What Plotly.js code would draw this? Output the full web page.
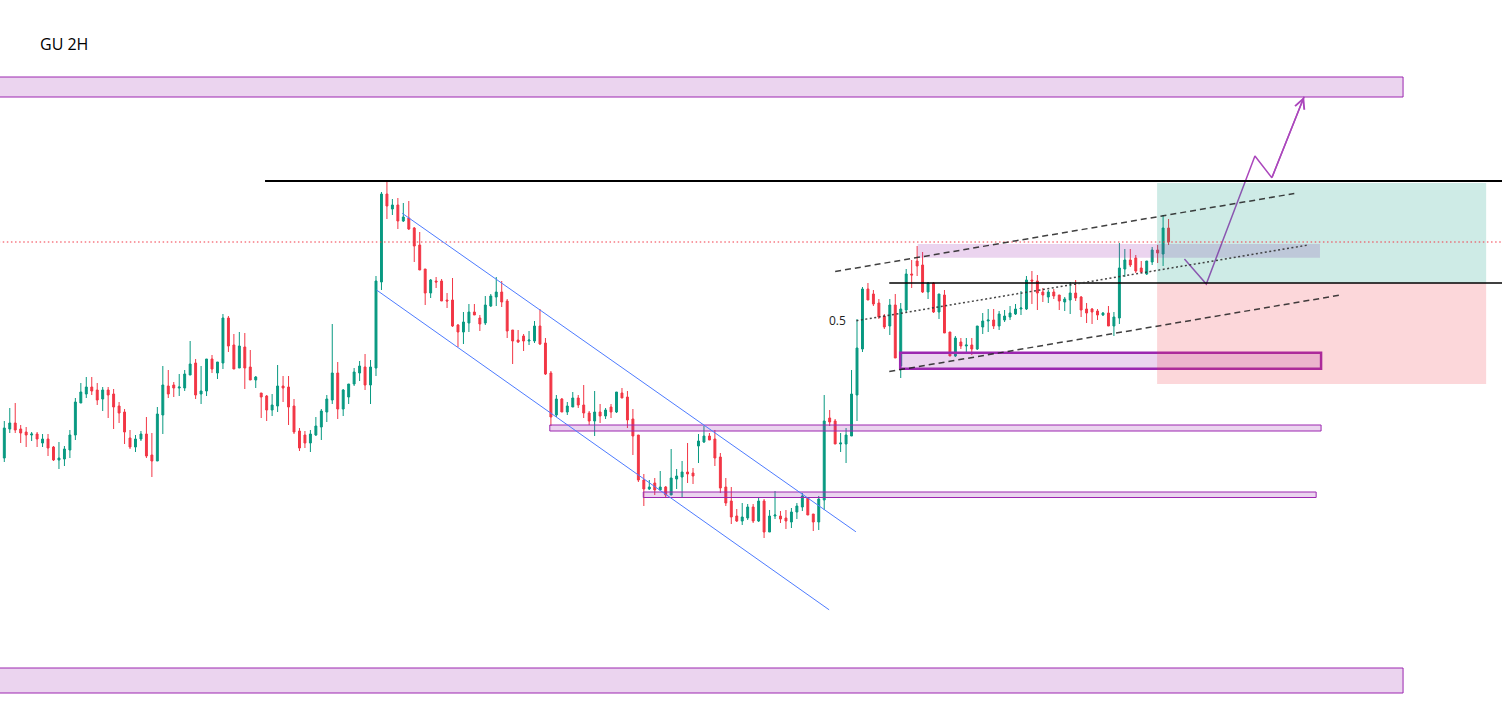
<!DOCTYPE html>
<html>
<head>
<meta charset="utf-8">
<script src="https://cdn.plot.ly/plotly-3.0.1.min.js"></script>
<style>
html,body{margin:0;padding:0;background:#ffffff;}
#chart{width:1502px;height:708px;}
</style>
</head>
<body>
<div id="chart"></div>
<script>
// ---- Chart title ----
const chartTitle = 'GU 2H';

// ---- GBPUSD 2H candles ----
const open = [
1.2342,1.2371,1.2377,1.2371,1.2368,1.2365,1.2366,1.2357,1.2361,1.2353,
1.2340,1.2341,1.2350,1.2365,1.2397,1.2406,1.2413,1.2410,1.2401,1.2410,
1.2406,1.2394,1.2388,1.2362,1.2353,1.2361,1.2366,1.2345,1.2339,1.2385,
1.2414,1.2415,1.2412,1.2412,1.2425,1.2437,1.2406,1.2409,1.2441,1.2427,
1.2437,1.2482,1.2455,1.2432,1.2453,1.2433,1.2420,1.2407,1.2404,1.2390,
1.2394,1.2414,1.2413,1.2394,1.2369,1.2365,1.2357,1.2365,1.2373,1.2388,
1.2400,1.2427,1.2391,1.2403,1.2416,1.2427,1.2433,1.2415,1.2432,1.2518,
1.2606,1.2591,1.2595,1.2579,1.2582,1.2572,1.2555,1.2531,1.2507,1.2519,
1.2519,1.2500,1.2500,1.2475,1.2468,1.2477,1.2488,1.2482,1.2477,1.2494,
1.2503,1.2508,1.2499,1.2470,1.2460,1.2464,1.2459,1.2459,1.2474,1.2457,
1.2427,1.2385,1.2401,1.2388,1.2393,1.2402,1.2395,1.2387,1.2379,1.2388,
1.2384,1.2393,1.2388,1.2407,1.2403,1.2381,1.2365,1.2320,1.2311,1.2317,
1.2310,1.2313,1.2305,1.2321,1.2323,1.2328,1.2327,1.2354,1.2358,1.2364,
1.2361,1.2343,1.2313,1.2299,1.2284,1.2279,1.2282,1.2293,1.2279,1.2299,
1.2268,1.2284,1.2284,1.2282,1.2278,1.2288,1.2293,1.2302,1.2286,1.2278,
1.2300,1.2382,1.2379,1.2356,1.2356,1.2364,1.2405,1.2451,1.2511,1.2506,
1.2497,1.2484,1.2474,1.2495,1.2434,1.2490,1.2526,1.2539,1.2535,1.2508,
1.2517,1.2488,1.2505,1.2468,1.2444,1.2458,1.2454,1.2455,1.2451,1.2473,
1.2479,1.2480,1.2474,1.2480,1.2483,1.2486,1.2491,1.2491,1.2520,1.2519,
1.2508,1.2503,1.2508,1.2505,1.2498,1.2500,1.2507,1.2503,1.2491,1.2491,
1.2489,1.2485,1.2487,1.2474,1.2482,1.2531,1.2540,1.2542,1.2532,1.2526,
1.2538,1.2550,1.2546,1.2572
];
const high = [
1.2379,1.2392,1.2397,1.2375,1.2373,1.2368,1.2368,1.2366,1.2366,1.2354,
1.2358,1.2354,1.2370,1.2402,1.2417,1.2423,1.2423,1.2417,1.2413,1.2413,
1.2411,1.2398,1.2391,1.2370,1.2365,1.2369,1.2383,1.2367,1.2393,1.2434,
1.2430,1.2418,1.2426,1.2430,1.2459,1.2441,1.2434,1.2441,1.2445,1.2438,
1.2486,1.2484,1.2466,1.2468,1.2467,1.2450,1.2424,1.2407,1.2405,1.2406,
1.2435,1.2424,1.2424,1.2401,1.2372,1.2369,1.2370,1.2383,1.2391,1.2405,
1.2476,1.2438,1.2411,1.2416,1.2432,1.2439,1.2446,1.2440,1.2524,1.2608,
1.2619,1.2601,1.2602,1.2597,1.2599,1.2573,1.2568,1.2531,1.2521,1.2523,
1.2521,1.2507,1.2522,1.2476,1.2488,1.2496,1.2496,1.2485,1.2504,1.2506,
1.2523,1.2519,1.2501,1.2470,1.2470,1.2466,1.2469,1.2479,1.2491,1.2462,
1.2429,1.2405,1.2402,1.2398,1.2408,1.2405,1.2415,1.2389,1.2409,1.2396,
1.2392,1.2396,1.2408,1.2412,1.2409,1.2391,1.2365,1.2326,1.2320,1.2322,
1.2329,1.2314,1.2351,1.2331,1.2339,1.2357,1.2332,1.2366,1.2374,1.2367,
1.2370,1.2347,1.2322,1.2313,1.2291,1.2297,1.2296,1.2296,1.2303,1.2301,
1.2290,1.2309,1.2289,1.2290,1.2292,1.2297,1.2307,1.2303,1.2286,1.2304,
1.2405,1.2390,1.2381,1.2367,1.2372,1.2430,1.2481,1.2513,1.2517,1.2510,
1.2501,1.2486,1.2501,1.2506,1.2497,1.2531,1.2540,1.2554,1.2548,1.2518,
1.2518,1.2506,1.2510,1.2468,1.2464,1.2462,1.2462,1.2462,1.2474,1.2487,
1.2491,1.2491,1.2489,1.2490,1.2494,1.2496,1.2509,1.2524,1.2529,1.2525,
1.2512,1.2510,1.2511,1.2505,1.2503,1.2518,1.2520,1.2504,1.2497,1.2492,
1.2491,1.2488,1.2494,1.2488,1.2557,1.2551,1.2551,1.2545,1.2539,1.2539,
1.2553,1.2555,1.2585,1.2581
];
const low = [
1.2338,1.2367,1.2367,1.2357,1.2353,1.2359,1.2353,1.2353,1.2344,1.2339,
1.2331,1.2334,1.2342,1.2360,1.2397,1.2402,1.2405,1.2395,1.2389,1.2382,
1.2371,1.2377,1.2356,1.2351,1.2348,1.2359,1.2342,1.2323,1.2339,1.2366,
1.2402,1.2403,1.2404,1.2409,1.2425,1.2401,1.2396,1.2404,1.2427,1.2421,
1.2431,1.2448,1.2431,1.2432,1.2411,1.2420,1.2412,1.2382,1.2379,1.2384,
1.2388,1.2398,1.2375,1.2366,1.2349,1.2352,1.2348,1.2364,1.2360,1.2378,
1.2396,1.2381,1.2384,1.2396,1.2414,1.2419,1.2410,1.2396,1.2424,1.2510,
1.2581,1.2585,1.2571,1.2578,1.2570,1.2538,1.2530,1.2495,1.2502,1.2512,
1.2499,1.2492,1.2473,1.2453,1.2456,1.2468,1.2485,1.2469,1.2475,1.2493,
1.2494,1.2493,1.2462,1.2436,1.2457,1.2449,1.2455,1.2457,1.2455,1.2425,
1.2374,1.2383,1.2388,1.2385,1.2393,1.2392,1.2382,1.2375,1.2364,1.2377,
1.2381,1.2382,1.2387,1.2402,1.2372,1.2345,1.2318,1.2294,1.2310,1.2305,
1.2310,1.2303,1.2305,1.2311,1.2303,1.2317,1.2316,1.2337,1.2357,1.2360,
1.2334,1.2307,1.2294,1.2276,1.2278,1.2275,1.2280,1.2277,1.2278,1.2262,
1.2268,1.2281,1.2277,1.2271,1.2272,1.2281,1.2289,1.2285,1.2269,1.2270,
1.2290,1.2374,1.2356,1.2348,1.2337,1.2364,1.2379,1.2448,1.2500,1.2494,
1.2481,1.2471,1.2465,1.2442,1.2422,1.2488,1.2512,1.2524,1.2507,1.2501,
1.2487,1.2481,1.2467,1.2444,1.2443,1.2451,1.2446,1.2445,1.2450,1.2466,
1.2468,1.2471,1.2470,1.2478,1.2480,1.2485,1.2485,1.2490,1.2496,1.2490,
1.2498,1.2497,1.2501,1.2490,1.2489,1.2486,1.2499,1.2483,1.2477,1.2476,
1.2480,1.2484,1.2474,1.2464,1.2476,1.2523,1.2533,1.2527,1.2527,1.2525,
1.2535,1.2537,1.2534,1.2555
];
const close = [
1.2372,1.2377,1.2370,1.2367,1.2365,1.2366,1.2361,1.2361,1.2352,1.2340,
1.2342,1.2351,1.2365,1.2398,1.2408,1.2413,1.2409,1.2400,1.2410,1.2405,
1.2393,1.2387,1.2368,1.2353,1.2361,1.2366,1.2344,1.2339,1.2386,1.2415,
1.2406,1.2412,1.2413,1.2426,1.2436,1.2405,1.2409,1.2441,1.2431,1.2438,
1.2482,1.2454,1.2431,1.2454,1.2432,1.2420,1.2423,1.2403,1.2390,1.2395,
1.2414,1.2412,1.2393,1.2368,1.2352,1.2357,1.2366,1.2374,1.2389,1.2401,
1.2427,1.2391,1.2410,1.2416,1.2428,1.2434,1.2415,1.2433,1.2519,1.2606,
1.2594,1.2595,1.2579,1.2583,1.2571,1.2554,1.2530,1.2507,1.2520,1.2518,
1.2499,1.2499,1.2474,1.2468,1.2478,1.2488,1.2485,1.2476,1.2495,1.2504,
1.2508,1.2498,1.2469,1.2459,1.2458,1.2459,1.2460,1.2474,1.2456,1.2426,
1.2383,1.2401,1.2388,1.2394,1.2402,1.2395,1.2387,1.2379,1.2388,1.2384,
1.2390,1.2388,1.2408,1.2402,1.2380,1.2364,1.2320,1.2311,1.2313,1.2310,
1.2313,1.2305,1.2322,1.2324,1.2328,1.2326,1.2324,1.2359,1.2364,1.2360,
1.2342,1.2312,1.2297,1.2283,1.2279,1.2283,1.2293,1.2279,1.2299,1.2268,
1.2284,1.2285,1.2281,1.2279,1.2288,1.2294,1.2304,1.2285,1.2278,1.2301,
1.2379,1.2378,1.2356,1.2357,1.2365,1.2406,1.2452,1.2511,1.2500,1.2496,
1.2483,1.2473,1.2495,1.2442,1.2491,1.2526,1.2525,1.2534,1.2508,1.2517,
1.2488,1.2506,1.2467,1.2444,1.2462,1.2454,1.2455,1.2451,1.2474,1.2479,
1.2480,1.2474,1.2486,1.2484,1.2487,1.2491,1.2492,1.2520,1.2519,1.2507,
1.2505,1.2508,1.2504,1.2499,1.2501,1.2507,1.2502,1.2490,1.2487,1.2488,
1.2485,1.2487,1.2474,1.2483,1.2532,1.2540,1.2535,1.2529,1.2528,1.2539,
1.2550,1.2547,1.2572,1.2558
];
const bars = open.map((_, i) => i);

// ---- Drawing levels (price) and anchors (bar index) ----
const upperZone = [1.2703, 1.2723];
const lowerZone = [1.2107, 1.2132];
const zonesEdge = 255.9;
const swingHighLevel = 1.2619;
const swingHighFrom = 47.7;
const entryLevel = 1.2517;
const entryFrom = 161.9;
const targetLevel = 1.2617;
const stopLevel = 1.2416;
const positionFrom = 210.9;
const positionTo = 271.1;

// smaller demand / supply zones
const zoneStart = [99.8, 116.9, 163.9, 167.1];
const zoneEnd   = [240.9, 240.0, 240.9, 240.7];
const zoneLow   = [1.2369, 1.23025, 1.24313, 1.25423];
const zoneHigh  = [1.2375, 1.2308, 1.24473, 1.2556];

// descending blue channel
const chanUpperX = [72.8, 155.8], chanUpperY = [1.25867, 1.22682];
const chanLowerX = [68.1, 150.9], chanLowerY = [1.2510, 1.21902];

// rising dashed channel with mid (0.5) line
const riseUpperX = [152.0, 236.0], riseUpperY = [1.25285, 1.26065];
const riseLowerX = [161.9, 244.2], riseLowerY = [1.24285, 1.25047];
const riseMidX   = [155.9, 238.6], riseMidY   = [1.24793, 1.2555];
const midLabel = '0.5';

// projected path
const pathX = [215.9, 219.9, 228.8, 231.9, 237.8];
const pathY = [1.2541, 1.2516, 1.2644, 1.26223, 1.27033];

// ---- styles ----
const UP = '#089981', DOWN = '#F23645';
const PURPLE = '#9c27b0', PURPLE_FILL = 'rgba(156,39,176,0.2)';
const X_RANGE = [-0.787, 274.0];
const Y_RANGE = [1.2092, 1.2800];

const shapes = [];
function rect(x0, x1, y0, y1, fill, lineColor, lineWidth) {
  shapes.push({type:'rect', xref:'x', yref:'y', x0, x1, y0, y1, fillcolor:fill,
    line:{color:lineColor, width:lineWidth}, layer:'above'});
}
function seg(xs, ys, color, width, dash) {
  shapes.push({type:'line', xref:'x', yref:'y', x0:xs[0], x1:xs[1], y0:ys[0], y1:ys[1],
    line:{color, width, dash:dash || 'solid'}, layer:'above'});
}

rect(X_RANGE[0]-1, zonesEdge, upperZone[0], upperZone[1], PURPLE_FILL, PURPLE, 1);
rect(X_RANGE[0]-1, zonesEdge, lowerZone[0], lowerZone[1], PURPLE_FILL, PURPLE, 1);
const zoneBorder = [1, 1, 2.5, 0];
zoneStart.forEach((s, k) => {
  rect(s, zoneEnd[k], zoneLow[k], zoneHigh[k], PURPLE_FILL,
       zoneBorder[k] ? PURPLE : 'rgba(0,0,0,0)', zoneBorder[k]);
});
rect(positionFrom, positionTo, entryLevel, targetLevel, 'rgba(8,153,129,0.2)', 'rgba(0,0,0,0)', 0);
rect(positionFrom, positionTo, stopLevel, entryLevel, 'rgba(242,54,69,0.2)', 'rgba(0,0,0,0)', 0);

seg([swingHighFrom, X_RANGE[1]+1], [swingHighLevel, swingHighLevel], '#000000', 2);
seg([entryFrom, X_RANGE[1]+1], [entryLevel, entryLevel], '#000000', 1.3);
seg([X_RANGE[0]-1, X_RANGE[1]+1], [close[close.length-1], close[close.length-1]], DOWN, 1.2, '1.5px,2.6px');
seg(chanUpperX, chanUpperY, '#4d7bff', 1);
seg(chanLowerX, chanLowerY, '#4d7bff', 1);
seg(riseUpperX, riseUpperY, 'rgba(30,30,30,0.85)', 1.5, '6px,4px');
seg(riseLowerX, riseLowerY, 'rgba(30,30,30,0.85)', 1.5, '6px,4px');
seg(riseMidX, riseMidY, 'rgba(50,50,50,0.9)', 1.5, '2px,2.5px');

const traces = [
  {
    type:'candlestick', x:bars, open, high, low, close,
    increasing:{line:{color:UP, width:1}, fillcolor:UP},
    decreasing:{line:{color:DOWN, width:1}, fillcolor:DOWN},
    whiskerwidth:0, hoverinfo:'skip', showlegend:false
  },
  {
    type:'scatter', mode:'lines', x:pathX, y:pathY,
    line:{color:'#ab47bc', width:1.5}, hoverinfo:'skip', showlegend:false
  }
];

const n = pathX.length;
const layout = {
  width:1502, height:708,
  margin:{l:0, r:0, t:0, b:0},
  paper_bgcolor:'#ffffff', plot_bgcolor:'#ffffff',
  showlegend:false,
  boxgap:0.5,
  title:{text:chartTitle, x:40/1502, xanchor:'left', y:1-44/708, yanchor:'middle',
         font:{family:'Open Sans, Noto Sans, sans-serif', size:16, color:'#000000'}},
  xaxis:{range:X_RANGE, visible:false, showgrid:false, zeroline:false,
         rangeslider:{visible:false}, fixedrange:true},
  yaxis:{range:Y_RANGE, visible:false, showgrid:false, zeroline:false, fixedrange:true},
  shapes,
  annotations:[
    {x:riseMidX[0]-1.6, y:riseMidY[0], xref:'x', yref:'y', text:midLabel, showarrow:false,
     xanchor:'right', yanchor:'middle', font:{family:'Open Sans, sans-serif', size:12, color:'#222'}},
    {x:pathX[n-1], y:pathY[n-1], ax:pathX[n-2], ay:pathY[n-2], xref:'x', yref:'y',
     axref:'x', ayref:'y', text:'', showarrow:true, arrowhead:5, arrowsize:1.3,
     arrowwidth:1.5, arrowcolor:'#ab47bc', standoff:0}
  ]
};

Plotly.newPlot('chart', traces, layout, {displayModeBar:false, staticPlot:true});
</script>
</body>
</html>
